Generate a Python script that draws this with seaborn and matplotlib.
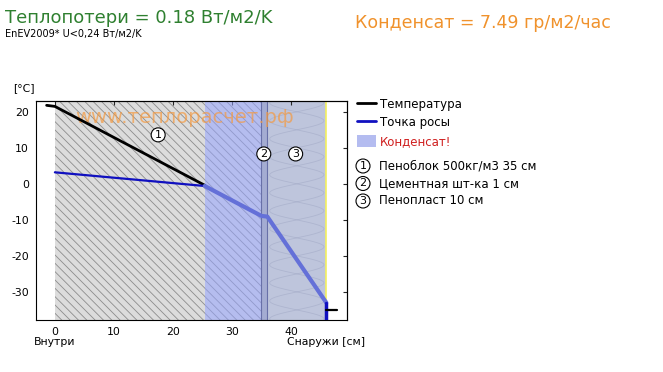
import matplotlib
matplotlib.use("Agg")
import matplotlib.pyplot as plt
import matplotlib.transforms as mtransforms
from matplotlib.lines import Line2D
from matplotlib.patches import Patch
import numpy as np
import seaborn as sns

# --- data ---
layer_names  = ["Пеноблок 500кг/м3 35 см", "Цементная шт-ка 1 см", "Пенопласт 10 см"]
layer_edges  = [0, 35, 36, 46]
condens_zone = [25.4, 46]

temp_x = [-1.4, 0, 25.4]
temp_y = [21.8, 21.5, -0.4]
dew_x  = [0, 25.4]
dew_y  = [3.2, -0.6]
cond_x = [25.4, 35, 36, 46]
cond_y = [-0.6, -8.9, -9.1, -33.0]
surf_x = [46, 46]
surf_y = [-33.0, -38.0]
out_x  = [46, 47.8]
out_y  = [-35.0, -35.0]

label_x = [17.5, 35.4, 40.8]
label_y = [13.6, 8.3, 8.3]

x_ticks = [0, 10, 20, 30, 40]
y_ticks = [-30, -20, -10, 0, 10, 20]

heat_loss = 0.18
condensate = 7.49

sns.set_theme(style="white")
plt.rcParams["font.family"] = ["DejaVu Sans"]
plt.rcParams["hatch.linewidth"] = 0.6
plt.rcParams["axes.unicode_minus"] = False
plt.rcParams["text.color"] = "black"

fig = plt.figure(figsize=(6.63, 3.72), dpi=100)
ax = fig.add_axes([36 / 663, 1 - 320 / 372, 311 / 663, 219 / 372])

# layers
ax.axvspan(layer_edges[0], layer_edges[1], facecolor="#dcdcdc", edgecolor="#8c8c8c",
           hatch="\\\\\\\\", linewidth=0, zorder=0)
ax.axvspan(condens_zone[0], layer_edges[1], facecolor="#96a4ff", alpha=0.55,
           linewidth=0, zorder=1)
ax.axvspan(layer_edges[1], layer_edges[2], facecolor="#a4acd2", edgecolor="#6870a8",
           linewidth=0.8, zorder=1)
ax.axvspan(layer_edges[2], layer_edges[3], facecolor="#bec5dc", linewidth=0, zorder=0)
ax.axvline(layer_edges[3], color="#f4f060", linewidth=1.2, zorder=2)

# insulation pattern
wy = np.linspace(-38, 24, 500)
for ph in (0.0, 5.0):
    ax.plot(41 + 4.6 * np.sin((wy - ph) * np.pi / 5.0), wy,
            color="#9aa2c0", linewidth=0.6, alpha=0.45, zorder=1)

sns.lineplot(x=temp_x, y=temp_y, sort=False, estimator=None, color="black", linewidth=2, ax=ax, zorder=4)
sns.lineplot(x=dew_x, y=dew_y, sort=False, estimator=None, color="#1010c0", linewidth=1.6, ax=ax, zorder=4)
sns.lineplot(x=cond_x, y=cond_y, sort=False, estimator=None, color="#6470d8", linewidth=3, ax=ax, zorder=4)
sns.lineplot(x=surf_x, y=surf_y, sort=False, estimator=None, color="#1010c0", linewidth=2.5, ax=ax, zorder=4)
sns.lineplot(x=out_x, y=out_y, sort=False, estimator=None, color="black", linewidth=1.6, ax=ax, zorder=4)

ax.text(22, 18.3, "www.теплорасчет.рф", color="#f59a40", alpha=0.7, fontsize=14,
        ha="center", va="center", zorder=3)

for i, (lx, ly) in enumerate(zip(label_x, label_y)):
    ax.text(lx, ly, str(i + 1), fontsize=8, ha="center", va="center", zorder=5,
            bbox=dict(boxstyle="circle,pad=0.18", fc="white", ec="black", lw=0.8))

ax.set_xlim(-3.2, 49.5)
ax.set_ylim(-37.8, 23)
ax.set_xticks(x_ticks)
ax.set_yticks(y_ticks)
ax.tick_params(axis="both", labelsize=7.8, length=3, width=0.8, colors="black",
               direction="out", pad=2, top=False, right=False)

top = ax.secondary_xaxis("top")
top.set_xticks(x_ticks)
top.xaxis.set_ticklabels([])
top.tick_params(direction="in", length=3, width=0.8)
rgt = ax.secondary_yaxis("right")
rgt.set_yticks(y_ticks)
rgt.yaxis.set_ticklabels([])
rgt.tick_params(direction="in", length=3, width=0.8)
for a in (ax, top, rgt):
    for s in a.spines.values():
        s.set_color("black")
        s.set_linewidth(0.8)
ax.grid(False)

trans = mtransforms.blended_transform_factory(ax.transData, ax.transAxes)
ax.text(0, -0.10, "Внутри", transform=trans, ha="center", va="center", fontsize=7.8)
ax.text(1.058, -0.10, "Снаружи [см]", transform=ax.transAxes, ha="right", va="center", fontsize=7.8)
ax.text(-0.074, 1.06, "[°C]", transform=ax.transAxes, ha="left", va="center", fontsize=7.8)

# legend
handles = [Line2D([], [], color="black", lw=2),
           Line2D([], [], color="#1010c0", lw=2),
           Patch(facecolor="#b4bcf0", edgecolor="none")]
leg = ax.legend(handles, ["Температура", "Точка росы", "Конденсат!"],
                loc="upper left", bbox_to_anchor=(1.018, 1.035), frameon=False,
                fontsize=8.5, handlelength=1.6, handleheight=1.2, handletextpad=0.3,
                labelspacing=0.45, borderaxespad=0)
leg.get_texts()[2].set_color("#d02020")

for i, name in enumerate(layer_names):
    y = 1 - (166 + i * 17.5) / 372
    fig.text(363 / 663, y, str(i + 1), fontsize=8, ha="center", va="center",
             bbox=dict(boxstyle="circle,pad=0.18", fc="white", ec="black", lw=0.8))
    fig.text(379 / 663, y, name, fontsize=8.5, ha="left", va="center")

fig.text(5 / 663, 1 - 18 / 372, f"Теплопотери = {heat_loss} Вт/м2/K", color="#2f8030",
         fontsize=13, ha="left", va="center")
fig.text(5 / 663, 1 - 34 / 372, "EnEV2009* U<0,24 Вт/м2/K", color="black",
         fontsize=7, ha="left", va="center")
fig.text(355 / 663, 1 - 23 / 372, f"Конденсат = {condensate} гр/м2/час", color="#f0922c",
         fontsize=12.5, ha="left", va="center")

fig.savefig("out.png", dpi=100)
